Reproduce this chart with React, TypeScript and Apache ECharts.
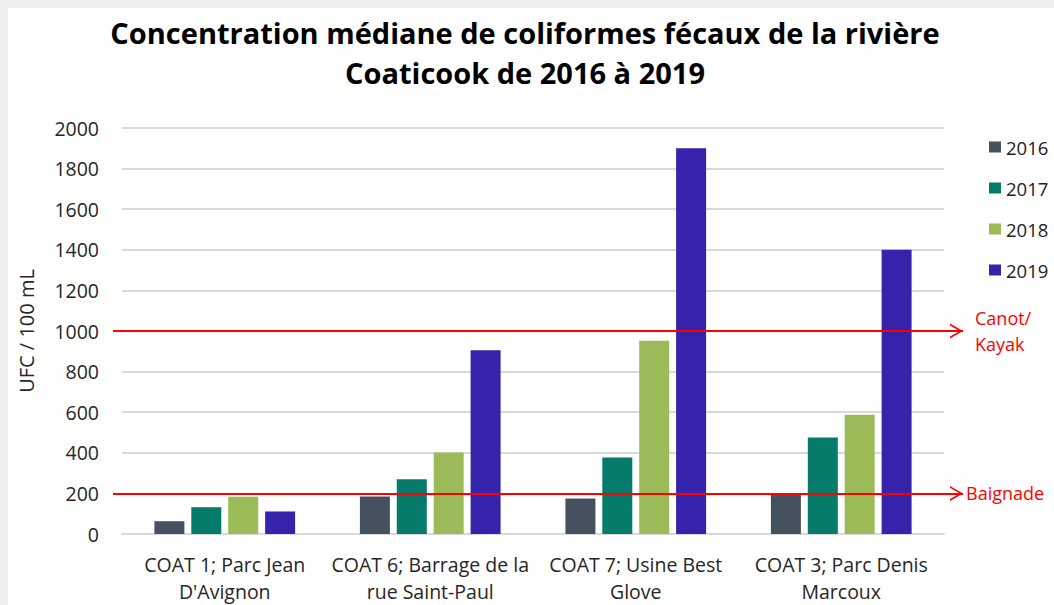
import React, { useEffect, useRef } from "react";
import * as echarts from "echarts";

const categories = [
  "COAT 1; Parc Jean\nD'Avignon",
  "COAT 6; Barrage de la\nrue Saint-Paul",
  "COAT 7; Usine Best\nGlove",
  "COAT 3; Parc Denis\nMarcoux",
];
const years = ["2016", "2017", "2018", "2019"];
const v2016 = [63, 185, 175, 200];
const v2017 = [132, 270, 377, 475];
const v2018 = [184, 402, 952, 587];
const v2019 = [111, 905, 1900, 1400];
const seriesValues = [v2016, v2017, v2018, v2019];
const colors = ["#465160", "#047c69", "#9bbb59", "#3623ac"];
const thresholdValues = [1000, 200];
const thresholdLabels = ["Canot/\nKayak", "Baignade"];

const FONT = "'Open Sans', Lato, sans-serif";
const chevron = "path://M0,13 L7.5,0 L15,13 L13.1,13 L7.5,3.3 L1.9,13 Z";

export default function App() {
  const ref = useRef<HTMLDivElement>(null);
  useEffect(() => {
    document.body.style.margin = "0";
    document.body.style.overflow = "hidden";
    document.documentElement.style.overflow = "hidden";
    const chart = echarts.init(ref.current!, null, { renderer: "svg" });
    const series: any[] = years.map((y, i) => ({
      name: y,
      type: "bar",
      data: seriesValues[i],
      barWidth: 30,
      barGap: "23%",
      itemStyle: { color: colors[i] },
    }));
    const lineStart = 105;
    const lineEnd = 955;
    series[3].markLine = {
      silent: true,
      symbol: ["none", chevron],
      symbolSize: [15, 13],
      symbolOffset: [[0, 0], [0, 6.5]],
      lineStyle: { color: "#ff0000", width: 2, type: "solid" },
      label: {
        show: true,
        position: "end",
        color: "#ff0000",
        fontFamily: FONT,
        fontSize: 18,
        lineHeight: 26,
        align: "left",
      },
      data: [
        [
          {
            yAxis: thresholdValues[0],
            x: lineStart,
            label: { formatter: thresholdLabels[0], distance: 12, padding: [26, 0, 0, 0] },
          },
          { yAxis: thresholdValues[0], x: lineEnd },
        ],
        [
          {
            yAxis: thresholdValues[1],
            x: lineStart,
            label: { formatter: thresholdLabels[1], distance: 3 },
          },
          { yAxis: thresholdValues[1], x: lineEnd },
        ],
      ],
    };
    chart.setOption({
      animation: false,
      backgroundColor: "#ffffff",
      title: {
        text: "Concentration médiane de coliformes fécaux de la rivière\nCoaticook de 2016 à 2019",
        left: 517,
        top: 4,
        padding: 0,
        textAlign: "center",
        textStyle: {
          fontFamily: FONT,
          fontWeight: "bold",
          fontSize: 29,
          lineHeight: 40,
          color: "#000000",
        },
      },
      legend: {
        orient: "vertical",
        left: 976,
        top: 124,
        itemWidth: 12,
        itemHeight: 11,
        itemGap: 21,
        icon: "rect",
        data: years,
        textStyle: { fontFamily: FONT, fontSize: 18.5, lineHeight: 20, color: "#222222" },
      },
      grid: { left: 105, right: 110, top: 120, bottom: 67, containLabel: false },
      xAxis: {
        type: "category",
        data: categories,
        axisLine: { lineStyle: { color: "#d9d9d9", width: 2 } },
        axisTick: { show: false },
        axisLabel: {
          fontFamily: FONT,
          fontSize: 19.5,
          lineHeight: 27,
          color: "#262626",
          margin: 17,
          interval: 0,
        },
      },
      yAxis: {
        type: "value",
        min: 0,
        max: 2000,
        interval: 200,
        name: "UFC / 100 mL",
        nameLocation: "middle",
        nameGap: 86,
        nameTextStyle: { fontFamily: FONT, fontSize: 20, color: "#262626" },
        axisLine: { show: false },
        axisTick: { show: false },
        axisLabel: {
          fontFamily: FONT,
          fontSize: 19.5,
          color: "#262626",
          margin: 23,
          formatter: (v: number) => String(v),
        },
        splitLine: { lineStyle: { color: "#d9d9d9", width: 2 } },
      },
      series,
    });
    return () => chart.dispose();
  }, []);
  return (
    <div
      style={{
        width: 1054,
        height: 605,
        boxSizing: "border-box",
        paddingTop: 8,
        paddingLeft: 8,
        background: "#f0f0f0",
        overflow: "hidden",
      }}
    >
      <div ref={ref} style={{ width: 1046, height: 597 }} />
    </div>
  );
}
